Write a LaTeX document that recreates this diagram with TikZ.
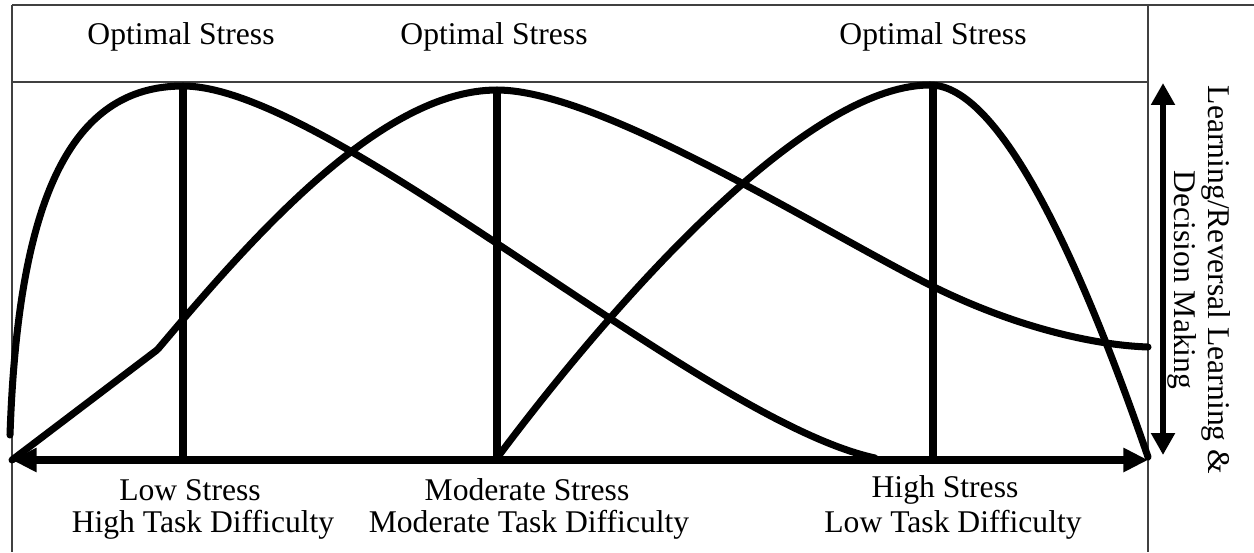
\documentclass[tikz,border=0pt]{standalone}
\usepackage{fontspec}
\setmainfont{Liberation Serif}
\usepackage{tikz}
\usetikzlibrary{arrows.meta,positioning,calc}

\begin{document}
\begin{tikzpicture}[x=0.02cm,y=-0.02cm,
  lbl/.style={inner sep=0pt,font=\fontsize{18}{20}\selectfont},
  curve/.style={line width=4pt,line cap=round,line join=round},
  peakline/.style={line width=4.3pt},
  axisarrow/.style={line width=4.5pt,{Triangle[length=14pt,width=13pt]}-{Triangle[length=14pt,width=13pt]}},
  framel/.style={line width=0.8pt,black!75}]
  \useasboundingbox (0,0) rectangle (1254,552); % 画像全体の大きさ
  \draw[framel] (12,5) -- (1254,5); % 上の枠線
  \draw[framel] (12,5) -- (12,552); % 左の枠線
  \draw[framel] (1148,5) -- (1148,552); % 右側の縦の仕切り線
  \draw[framel] (12,82) -- (1148,82); % 見出し欄の下の線
  \coordinate (xl) at (12,460); % 横軸の左端
  \coordinate (xr) at (1148,460); % 横軸の右端
  \coordinate (yt) at (1163,83); % 縦軸の上端
  \coordinate (yb) at (1163,455); % 縦軸の下端
  \coordinate (pkL) at (183,86); % 低ストレスの頂点
  \coordinate (pkM) at (497,90); % 中程度の頂点
  \coordinate (pkH) at (930,85); % 高ストレスの頂点
  \draw[axisarrow] (xl) -- (xr); % ストレスの横軸
  \draw[line width=3.4pt,{Triangle[length=12.5pt,width=13pt]}-{Triangle[length=12.5pt,width=13pt]}] (yt) -- (yb); % 学習の縦軸
  \draw[curve] (10,435) .. controls (18,200) and (70,86) .. (pkL)
    .. controls (330,86) and (700,420) .. (875,458); % 低ストレスで最適となる曲線
  \draw[curve] (xl) -- (157,350); % 中程度の曲線の直線部分
  \draw[curve] (158,349) .. controls (250,240) and (380,90) .. (pkM)
    .. controls (600,90) and (820,230) .. (930,285)
    .. controls (1010,325) and (1090,345) .. (1148,347); % 中程度のストレスで最適となる曲線
  \draw[curve] (497,458) .. controls (600,320) and (800,85) .. (pkH)
    .. controls (1000,85) and (1080,260) .. (1148,457); % 高ストレスで最適となる曲線
  \draw[peakline] (183,86) -- (183,460); % 低ストレスの最適点
  \draw[peakline] (497,90) -- (497,460); % 中程度の最適点
  \draw[peakline] (933,85) -- (933,460); % 高ストレスの最適点
  \node[lbl] (optL) at (181,37) {Optimal Stress};
  \node[lbl] (optM) at (494,37) {Optimal Stress};
  \node[lbl] (optH) at (933,37) {Optimal Stress};
  \node[lbl] (lowS) at (190,490) {Low Stress};
  \node[lbl] (lowT) at (203,525) {High Task Difficulty};
  \node[lbl] (modS) at (527,490) {Moderate Stress};
  \node[lbl] (modT) at (529,525) {Moderate Task Difficulty};
  \node[lbl] (higS) at (945,490) {High Stress};
  \node[lbl] (higT) at (953,525) {Low Task Difficulty};
  \node[lbl,align=center,rotate=-90,font=\fontsize{18}{19}\selectfont] (yax) at (1199,280) {Learning/Reversal Learning \&\\Decision Making}; % 縦軸の説明
\end{tikzpicture}
\end{document}
